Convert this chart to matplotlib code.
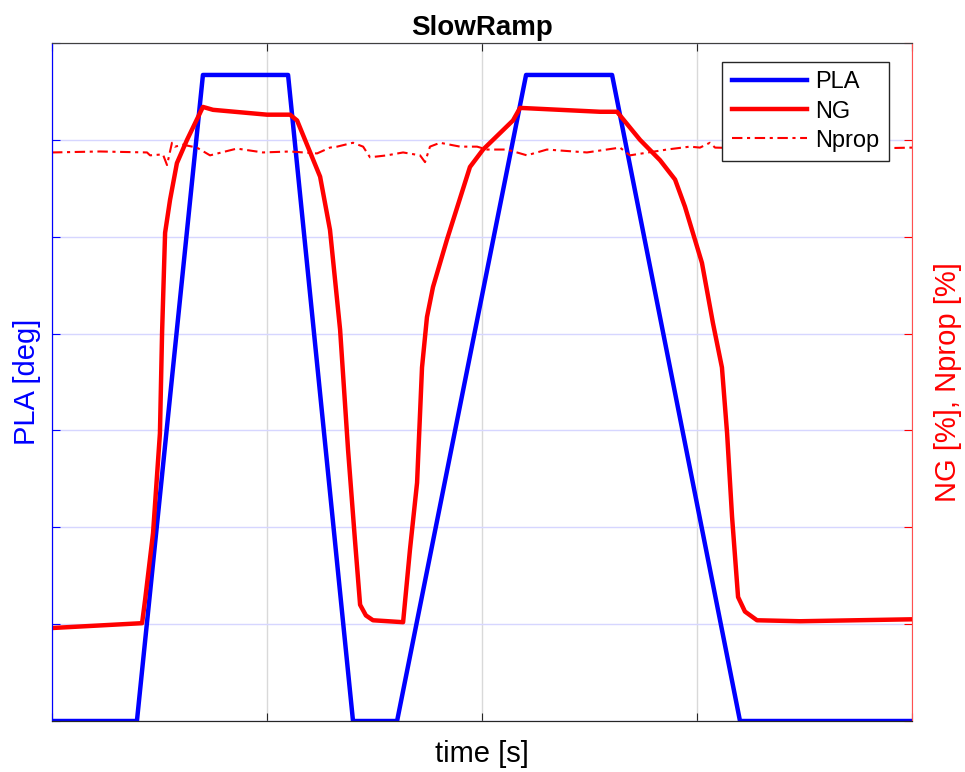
import matplotlib.pyplot as plt

plt.rcParams['font.family'] = ['Liberation Sans', 'DejaVu Sans']

# time base [s]
pla_t = [0, 39.5, 70.2, 109.8, 140.0, 160.5, 220.5, 260.5, 320.0, 400]
pla_val = [0, 0, 66.7, 66.7, 0, 0, 66.7, 66.7, 0, 0]

ng_t = [0, 41.9, 43.3, 47.0, 50.2, 51.2, 52.6, 54.9, 58.1, 62.8, 70.2, 74.9,
        100.0, 110.7, 114.0, 124.7, 129.3, 134.0, 137.7, 140.9, 143.3, 146.0,
        149.3, 163.3, 166.5, 169.8, 172.1, 174.4, 177.2, 183.7, 194.4, 200.5,
        214.4, 217.7, 236.3, 254.9, 262.8, 273.5, 282.8, 289.8, 294.4, 302.3,
        307.4, 311.6, 314.0, 316.3, 319.1, 322.3, 327.9, 347.9, 400]
ng_val = [49.6, 50.1, 52.5, 59.4, 69.7, 80.1, 90.4, 93.8, 97.6, 100.0, 103.4, 103.1,
          102.6, 102.6, 102.0, 96.2, 90.7, 80.4, 68.0, 58.7, 52.0, 50.9,
          50.4, 50.2, 57.7, 64.6, 76.5, 81.7, 84.8, 89.7, 97.2, 99.0,
          102.0, 103.3, 103.1, 102.9, 102.9, 100.0, 97.9, 95.9, 93.1, 87.3,
          81.1, 76.5, 69.7, 61.1, 52.8, 51.3, 50.4, 50.3, 50.5]

nprop_t = [0, 22.3, 44.2, 45.6, 51.6, 53.5, 55.8, 57.2, 60.9, 67.4, 73.5, 86.0,
           98.1, 110.7, 123.3, 129.3, 132.6, 140.0, 144.7, 147.9, 155.8, 163.3,
           171.2, 173.5, 175.8, 180.5, 189.8, 197.7, 202.3, 211.6, 220.9, 230.2,
           248.8, 264.2, 268.8, 286.0, 296.7, 301.4, 306.0, 308.4, 329.3, 357.2, 400]
nprop_val = [98.7, 98.8, 98.7, 98.4, 98.5, 97.4, 99.7, 99.3, 99.5, 99.2, 98.4, 99.1,
             98.7, 98.8, 98.6, 99.2, 99.3, 99.7, 99.3, 98.2, 98.4, 98.7,
             98.4, 97.7, 99.3, 99.7, 99.3, 99.3, 99.0, 99.0, 98.4, 99.0,
             98.7, 99.2, 98.4, 99.0, 99.3, 99.2, 99.7, 99.2, 99.1, 99.0, 99.2]

t_ticks = [0, 100, 200, 300, 400]
pla_ticks = [0, 10, 20, 30, 40, 50, 60, 70]
ng_ticks = [40, 50, 60, 70, 80, 90, 100, 110]

fig = plt.figure(figsize=(9.65, 7.72), dpi=100)
ax = fig.add_axes([52/965, 51/772, 860/965, 678/772])
ax2 = ax.twinx()

l1, = ax.plot(pla_t, pla_val, color='blue', lw=3.2, label='PLA',
              solid_joinstyle='round')
l2, = ax2.plot(ng_t, ng_val, color='red', lw=3.2, label='NG',
               solid_joinstyle='round')
l3, = ax2.plot(nprop_t, nprop_val, color='red', lw=1.5, label='Nprop',
               dashes=(5, 2.2, 1.5, 2.2))

ax.set_xlim(0, 400)
ax.set_ylim(0, 70)
ax2.set_ylim(40, 110)
ax.set_xticks(t_ticks)
ax.set_yticks(pla_ticks)
ax2.set_yticks(ng_ticks)

# grid: vertical gray, horizontal tinted like the left axis
ax.xaxis.grid(True, color='#d9d9d9', lw=1)
ax.yaxis.grid(True, color='#d6d6ff', lw=1)
ax.set_axisbelow(True)

ax.tick_params(axis='x', direction='in', length=6, top=True, labelbottom=False,
               colors='#262626')
ax.tick_params(axis='y', which='both', direction='in', length=6, left=True, right=False,
               labelleft=False, labelright=False, colors='blue')
ax2.tick_params(axis='y', which='both', direction='in', length=6, left=False, right=True,
                labelleft=False, labelright=False, colors='red')

ax.spines['left'].set_color('blue')
ax2.spines['left'].set_color('blue')
ax2.spines['right'].set_color('#ff5050')
ax.spines['right'].set_visible(False)
for a in (ax, ax2):
    a.spines['top'].set_color('#404040')
    a.spines['bottom'].set_color('#262626')

ax.set_title('SlowRamp', fontsize=20, fontweight='bold', pad=6)
ax.set_xlabel('time [s]', fontsize=21, labelpad=14)
ax.set_ylabel('PLA [deg]', fontsize=21, color='blue', labelpad=8)
ax2.set_ylabel('NG [%], Nprop [%]', fontsize=21, color='red', labelpad=16)

leg = ax2.legend(handles=[l1, l2, l3], loc='upper right', bbox_to_anchor=(0.9733, 0.972),
                 fontsize=17, handlelength=3.2, handletextpad=0.35, fancybox=False,
                 framealpha=1, edgecolor='#262626', borderpad=0.4, labelspacing=0.3,
                 borderaxespad=0)
leg.get_frame().set_linewidth(1.0)

fig.savefig('out.png', dpi=100)
